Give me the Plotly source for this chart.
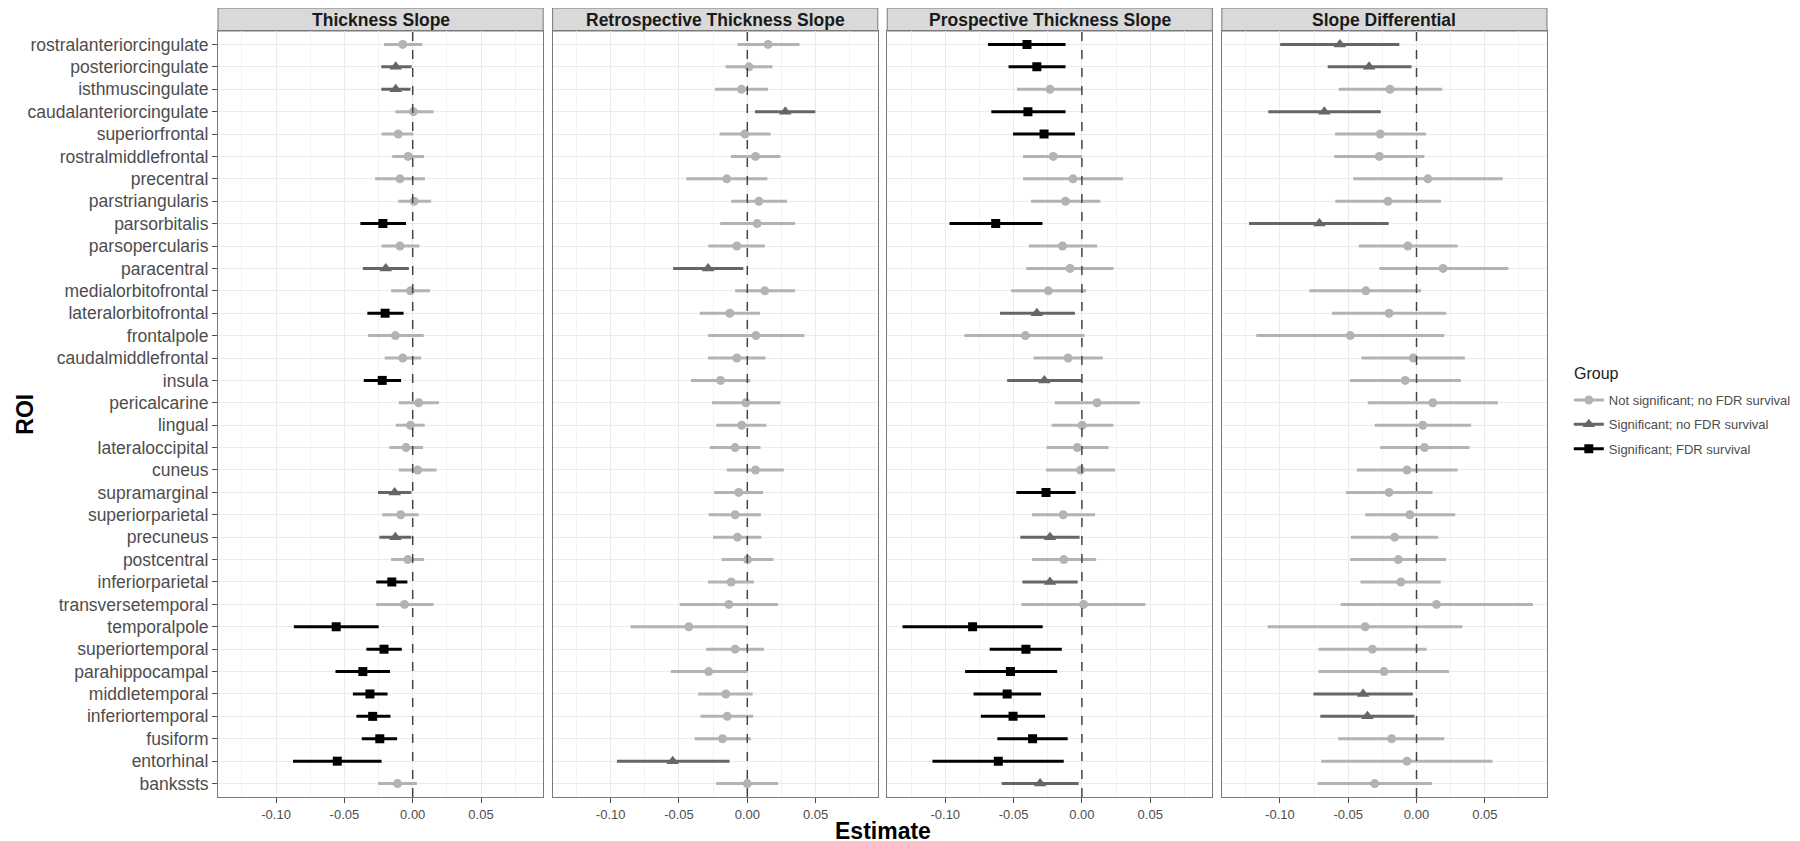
import plotly.graph_objects as go
from plotly.subplots import make_subplots

# ROI order, top to bottom
rois = ["rostralanteriorcingulate", "posteriorcingulate", "isthmuscingulate",
        "caudalanteriorcingulate", "superiorfrontal", "rostralmiddlefrontal",
        "precentral", "parstriangularis", "parsorbitalis", "parsopercularis",
        "paracentral", "medialorbitofrontal", "lateralorbitofrontal", "frontalpole",
        "caudalmiddlefrontal", "insula", "pericalcarine", "lingual",
        "lateraloccipital", "cuneus", "supramarginal", "superiorparietal",
        "precuneus", "postcentral", "inferiorparietal", "transversetemporal",
        "temporalpole", "superiortemporal", "parahippocampal", "middletemporal",
        "inferiortemporal", "fusiform", "entorhinal", "bankssts"]

panel_titles = ["Thickness Slope", "Retrospective Thickness Slope",
                "Prospective Thickness Slope", "Slope Differential"]

# N = not significant, S = significant no FDR, F = FDR survival
thick_est = [-0.0073, -0.0124, -0.0124, 0.0005, -0.0106, -0.0034, -0.0093, 0.001, -0.0218, -0.0093,
             -0.0197, -0.0016, -0.0202, -0.0127, -0.0073, -0.0223, 0.0044, -0.0016, -0.0049, 0.0036,
             -0.0132, -0.0088, -0.0127, -0.0036, -0.0153, -0.006, -0.056, -0.021, -0.0365, -0.0313,
             -0.0293, -0.0241, -0.0552, -0.0111]
thick_lo = [-0.021, -0.023, -0.023, -0.0127, -0.0228, -0.015, -0.0275, -0.0106, -0.0383, -0.0228,
            -0.0365, -0.0158, -0.0332, -0.0326, -0.0205, -0.0358, -0.0101, -0.0124, -0.0171, -0.0101,
            -0.0254, -0.0223, -0.0244, -0.0158, -0.0267, -0.0267, -0.087, -0.0339, -0.0565, -0.0438,
            -0.0412, -0.0373, -0.0876, -0.0254]
thick_hi = [0.007, -0.0008, -0.0016, 0.0153, 0.0005, 0.0083, 0.009, 0.0135, -0.0049, 0.0049,
            -0.0028, 0.0127, -0.0067, 0.008, 0.0062, -0.0085, 0.0192, 0.0088, 0.0075, 0.0174,
            -0.001, 0.0044, -0.001, 0.0083, -0.0039, 0.0153, -0.0249, -0.008, -0.0166, -0.0184,
            -0.0163, -0.0114, -0.0228, 0.0031]
thick_grp = list("NSSNNNNNFNSNFNNFNNNNSNSNFNFFFFFFFN")

retro_est = [0.0152, 0.0012, -0.0043, 0.0278, -0.0017, 0.006, -0.015, 0.0085, 0.0072, -0.0077,
             -0.0287, 0.0128, -0.0128, 0.0063, -0.0077, -0.0196, -0.001, -0.0041, -0.0089, 0.006,
             -0.0063, -0.0089, -0.0072, 0.0002, -0.0118, -0.0135, -0.0428, -0.0089, -0.0283, -0.0157,
             -0.0147, -0.0181, -0.0546, 0.0]
retro_lo = [-0.0072, -0.0159, -0.0237, 0.0056, -0.0203, -0.0121, -0.0447, -0.0118, -0.0198, -0.0285,
            -0.0543, -0.0089, -0.0348, -0.0287, -0.0287, -0.0413, -0.0258, -0.0227, -0.0275, -0.015,
            -0.0242, -0.0283, -0.0251, -0.0188, -0.0287, -0.0495, -0.0855, -0.0302, -0.056, -0.036,
            -0.0343, -0.0386, -0.0954, -0.0227]
retro_hi = [0.0382, 0.0184, 0.0152, 0.0498, 0.0171, 0.0242, 0.0147, 0.029, 0.035, 0.0128,
            -0.0029, 0.035, 0.0092, 0.0418, 0.0133, 0.0022, 0.0242, 0.014, 0.0097, 0.0268,
            0.0116, 0.0099, 0.0104, 0.0191, 0.0048, 0.0225, 0.0, 0.0121, 0.0, 0.0039,
            0.0043, 0.0027, -0.013, 0.0225]
retro_grp = list("NNNSNNNNNNSNNNNNNNNNNNNNNNNNNNNNSN")

pros_est = [-0.0402, -0.033, -0.0234, -0.0395, -0.0277, -0.021, -0.0065, -0.012, -0.0631, -0.0142,
            -0.0087, -0.0246, -0.033, -0.0414, -0.0101, -0.0275, 0.0111, 0.0002, -0.0034, -0.001,
            -0.0263, -0.0137, -0.0234, -0.0133, -0.0234, 0.0012, -0.08, -0.041, -0.0523, -0.0547,
            -0.0504, -0.0361, -0.0612, -0.0306]
pros_lo = [-0.0687, -0.0537, -0.0475, -0.0663, -0.0504, -0.0431, -0.0431, -0.0373, -0.0969, -0.0388,
           -0.0407, -0.0518, -0.06, -0.086, -0.0354, -0.0547, -0.0198, -0.0222, -0.0258, -0.0263,
           -0.048, -0.0366, -0.0451, -0.0364, -0.0436, -0.0443, -0.1313, -0.0675, -0.0855, -0.0793,
           -0.074, -0.0619, -0.1094, -0.0588]
pros_hi = [-0.012, -0.012, 0.0002, -0.012, -0.0051, 0.0002, 0.0301, 0.0135, -0.0289, 0.0111,
           0.0231, 0.0031, -0.0051, 0.0019, 0.0152, -0.0005, 0.0424, 0.0231, 0.0195, 0.0243,
           -0.0046, 0.0096, -0.0017, 0.0104, -0.0031, 0.0465, -0.0287, -0.0147, -0.0181, -0.0299,
           -0.027, -0.0104, -0.0133, -0.0024]
pros_grp = list("FFNFFNNNFNNNSNNSNNNNFNSNSNFFFFFFFS")

diff_est = [-0.0561, -0.0347, -0.0194, -0.0675, -0.0265, -0.0272, 0.0083, -0.0209, -0.0711, -0.0063,
            0.0194, -0.0371, -0.0201, -0.0485, -0.0024, -0.0083, 0.0119, 0.0046, 0.0058, -0.007,
            -0.0201, -0.0049, -0.016, -0.0133, -0.0114, 0.0146, -0.0376, -0.0323, -0.0238, -0.0391,
            -0.0359, -0.0182, -0.007, -0.0306]
diff_lo = [-0.0998, -0.065, -0.057, -0.1085, -0.0597, -0.0602, -0.0464, -0.0595, -0.1226, -0.0422,
           -0.0272, -0.0784, -0.0619, -0.1172, -0.0403, -0.0488, -0.0357, -0.0306, -0.0267, -0.0437,
           -0.0517, -0.0376, -0.0481, -0.0485, -0.041, -0.0556, -0.109, -0.0718, -0.0718, -0.0755,
           -0.0704, -0.0573, -0.0697, -0.0723]
diff_hi = [-0.0126, -0.0036, 0.0187, -0.0262, 0.007, 0.0058, 0.0631, 0.018, -0.0204, 0.0301,
           0.0672, 0.0034, 0.0218, 0.0204, 0.0354, 0.0325, 0.0595, 0.04, 0.0388, 0.0301,
           0.0117, 0.0284, 0.016, 0.0216, 0.0177, 0.0852, 0.0335, 0.0073, 0.0238, -0.0027,
           -0.0015, 0.0204, 0.0556, 0.0114]
diff_grp = list("SSNSNNNNSNNNNNNNNNNNNNNNNNNNNSSNNN")

panels = [
    (thick_est, thick_lo, thick_hi, thick_grp),
    (retro_est, retro_lo, retro_hi, retro_grp),
    (pros_est, pros_lo, pros_hi, pros_grp),
    (diff_est, diff_lo, diff_hi, diff_grp),
]

groups = {
    "N": dict(name="Not significant; no FDR survival", color="#b3b3b3", symbol="circle", size=9),
    "S": dict(name="Significant; no FDR survival", color="#666666", symbol="triangle-up", size=11),
    "F": dict(name="Significant; FDR survival", color="#000000", symbol="square", size=9),
}

FONT = "Liberation Sans, Arial, sans-serif"
BORDER = "#7a7a7a"

# page has an 8px body margin, so layout is set in figure px = page px - 8
L, R, T, B = 210, 250, 23, 52
PW, PH = 1800 - L - R, 841 - T - B

fig = make_subplots(rows=1, cols=4, shared_yaxes=True, horizontal_spacing=9.5 / PW)

for col, (est, lo, hi, grp) in enumerate(panels, start=1):
    for code, g in groups.items():
        idx = [i for i, c in enumerate(grp) if c == code]
        if not idx:
            continue
        fig.add_trace(go.Scatter(
            x=[est[i] for i in idx],
            y=[rois[i] for i in idx],
            mode="markers",
            marker=dict(color=g["color"], symbol=g["symbol"], size=g["size"]),
            error_x=dict(type="data", symmetric=False,
                         array=[hi[i] - est[i] for i in idx],
                         arrayminus=[est[i] - lo[i] for i in idx],
                         color=g["color"], thickness=3, width=0),
            showlegend=False,
        ), row=1, col=col)
    fig.add_vline(x=0, line=dict(color="#444444", width=1.5, dash="dash"), row=1, col=col)

# legend keys
for code, g in groups.items():
    fig.add_trace(go.Scatter(
        x=[None], y=[None], mode="lines+markers", name=g["name"], legendgroup=code,
        line=dict(color=g["color"], width=3),
        marker=dict(color=g["color"], symbol=g["symbol"], size=g["size"]),
    ), row=1, col=4)

fig.update_xaxes(
    range=[-0.1425, 0.0955],
    tickvals=[-0.10, -0.05, 0.0, 0.05],
    ticktext=["-0.10", "-0.05", "0.00", "0.05"],
    tickfont=dict(family=FONT, size=13, color="#4d4d4d"),
    ticks="outside", ticklen=5, tickcolor="#4d4d4d",
    showgrid=True, gridcolor="#ebebeb", gridwidth=1.2,
    minor=dict(tickvals=[-0.125, -0.075, -0.025, 0.025, 0.075],
               showgrid=True, gridcolor="#f3f3f3", gridwidth=0.8),
    zeroline=False, showline=True, mirror=True, linecolor=BORDER, linewidth=1,
)
fig.update_yaxes(
    type="category", categoryorder="array", categoryarray=rois,
    range=[len(rois) - 0.4, -0.6],
    showgrid=True, gridcolor="#ebebeb", gridwidth=1.2,
    zeroline=False, showline=True, mirror=True, linecolor=BORDER, linewidth=1,
)
fig.update_yaxes(
    ticks="outside", ticklen=5, tickcolor="#4d4d4d",
    tickfont=dict(family=FONT, size=17.5, color="#4d4d4d"),
    row=1, col=1,
)

# facet strips
strip_h = T / PH
for i, title in enumerate(panel_titles, start=1):
    xref = "x domain" if i == 1 else f"x{i} domain"
    fig.add_shape(type="rect", xref=xref, yref="paper", x0=0, x1=1, y0=1, y1=1 + strip_h,
                  fillcolor="#d9d9d9", line=dict(color=BORDER, width=1), layer="below")
    fig.add_annotation(text=f"<b>{title}</b>", xref=xref, yref="paper", x=0.5,
                       y=1 + strip_h / 2, showarrow=False, yanchor="middle",
                       font=dict(family=FONT, size=17.5, color="#1a1a1a"))

fig.add_annotation(text="<b>Estimate</b>", xref="paper", yref="paper", x=0.5, y=-34 / PH,
                   showarrow=False, yanchor="middle",
                   font=dict(family=FONT, size=23, color="#000000"))
fig.add_annotation(text="<b>ROI</b>", xref="paper", yref="paper", x=(0 - L) / PW, y=0.5,
                   textangle=-90, showarrow=False, xanchor="left",
                   font=dict(family=FONT, size=23, color="#000000"))
fig.add_annotation(text="Group", xref="paper", yref="paper", x=(1575 - L) / PW,
                   y=(PH + T - 365) / PH, xanchor="left", yanchor="middle", showarrow=False,
                   font=dict(family=FONT, size=16, color="#1a1a1a"))

fig.update_layout(
    width=1800, height=841,
    margin=dict(l=L, r=R, t=T, b=B),
    plot_bgcolor="white", paper_bgcolor="white",
    font=dict(family=FONT),
    legend=dict(
        font=dict(family=FONT, size=13, color="#4d4d4d"),
        x=(1572 - L) / PW, y=(PH + T - 377) / PH, xanchor="left", yanchor="top",
        traceorder="grouped", tracegroupgap=4.5,
        bgcolor="rgba(0,0,0,0)", itemwidth=30,
    ),
)

fig.write_html("out.html")
